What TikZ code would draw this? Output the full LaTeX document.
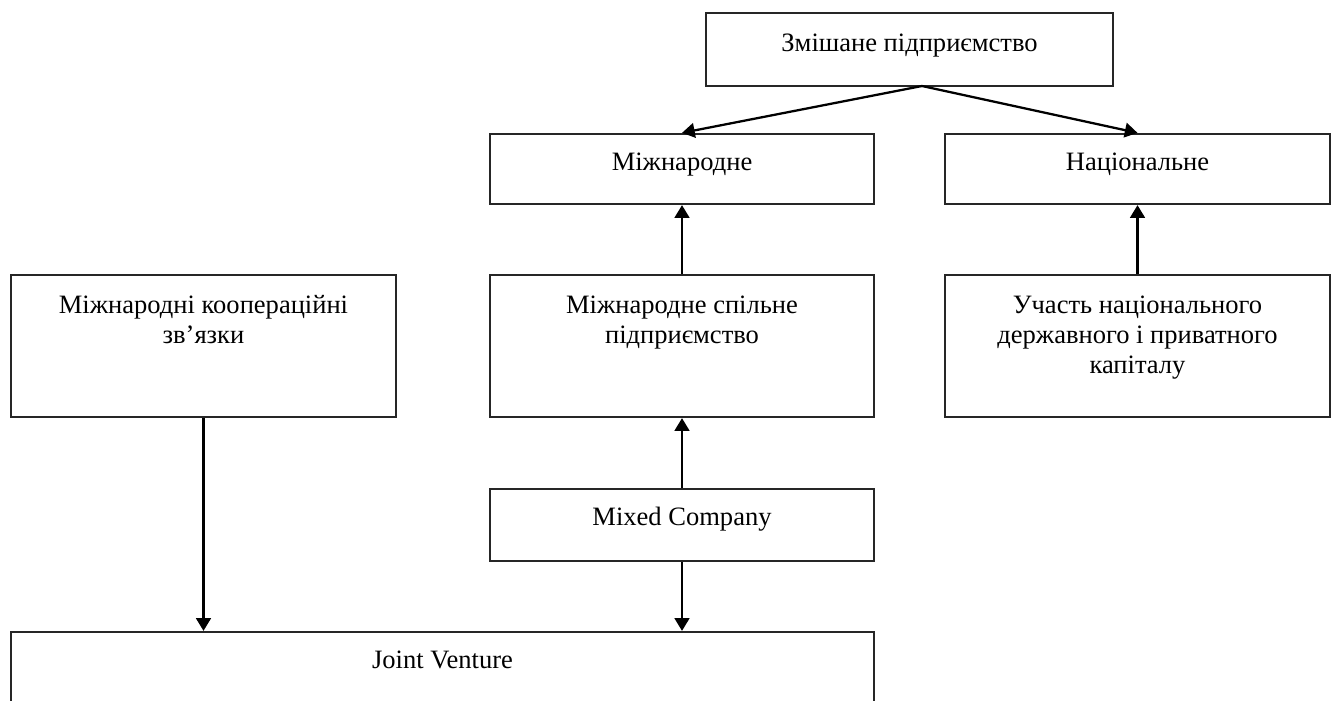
\documentclass[tikz,border=0pt]{standalone}
\usepackage{fontspec}
\setmainfont{Liberation Serif}
\usetikzlibrary{arrows.meta,fit}
\begin{document}
\begin{tikzpicture}[x=0.75pt,y=-0.75pt,
  box/.style={draw=black!85, line width=1.7pt, inner sep=0pt, rectangle},
  txt/.style={font=\fontsize{19.9pt}{22.5pt}\selectfont, align=center, inner sep=0pt, anchor=base},
  arr/.style={line width=1.7pt, -{Triangle[length=9.5pt,width=11pt]}}]
\useasboundingbox (0,0) rectangle (1333,700);
\clip (0,0) rectangle (1333,700);

% boxes
\node[box, fit={(706,13) (1113,86)}]   (mixed) {};
\node[box, fit={(490,134) (874,204)}]  (intl) {};
\node[box, fit={(945,134) (1330,204)}] (natl) {};
\node[box, fit={(11,275) (396,417)}]   (coop) {};
\node[box, fit={(490,275) (874,417)}]  (ijv) {};
\node[box, fit={(945,275) (1330,417)}] (cap) {};
\node[box, fit={(490,489) (874,561)}]  (mc) {};
\node[box, fit={(11,632) (874,715)}]   (jv) {};

% captions near the top of each box (base anchor sits on the last line)
\node[txt] (tmixed) at ([yshift=-29.5pt]mixed.north) {Змішане підприємство};
\node[txt] (tintl)  at ([yshift=-28.5pt]intl.north) {Міжнародне};
\node[txt] (tnatl)  at ([yshift=-28.5pt]natl.north) {Національне};
\node[txt] (tcoop)  at ([yshift=-52pt]coop.north) {Міжнародні коопераційні\\зв’язки};
\node[txt] (tijv)   at ([yshift=-52pt]ijv.north) {Міжнародне спільне\\підприємство};
\node[txt] (tcap)   at ([yshift=-74.5pt]cap.north) {Участь національного\\державного і приватного\\капіталу};
\node[txt] (tmc)    at ([yshift=-28.5pt]mc.north) {Mixed Company};
\node[txt] (tjv)    at ([yshift=-28.5pt]jv.north) {Joint Venture};

% connectors
\coordinate (apex) at (922,86);
\draw[arr] (apex) -- (intl.north);
\draw[arr] (apex) -- (natl.north);
\draw[arr] (ijv.north) -- (intl.south);
\draw[arr] (cap.north) -- (natl.south);
\draw[arr] (mc.north) -- (ijv.south);
\draw[arr] (mc.south) -- (mc.south |- jv.north);
\draw[arr] (coop.south) -- (coop.south |- jv.north);
\end{tikzpicture}
\end{document}
